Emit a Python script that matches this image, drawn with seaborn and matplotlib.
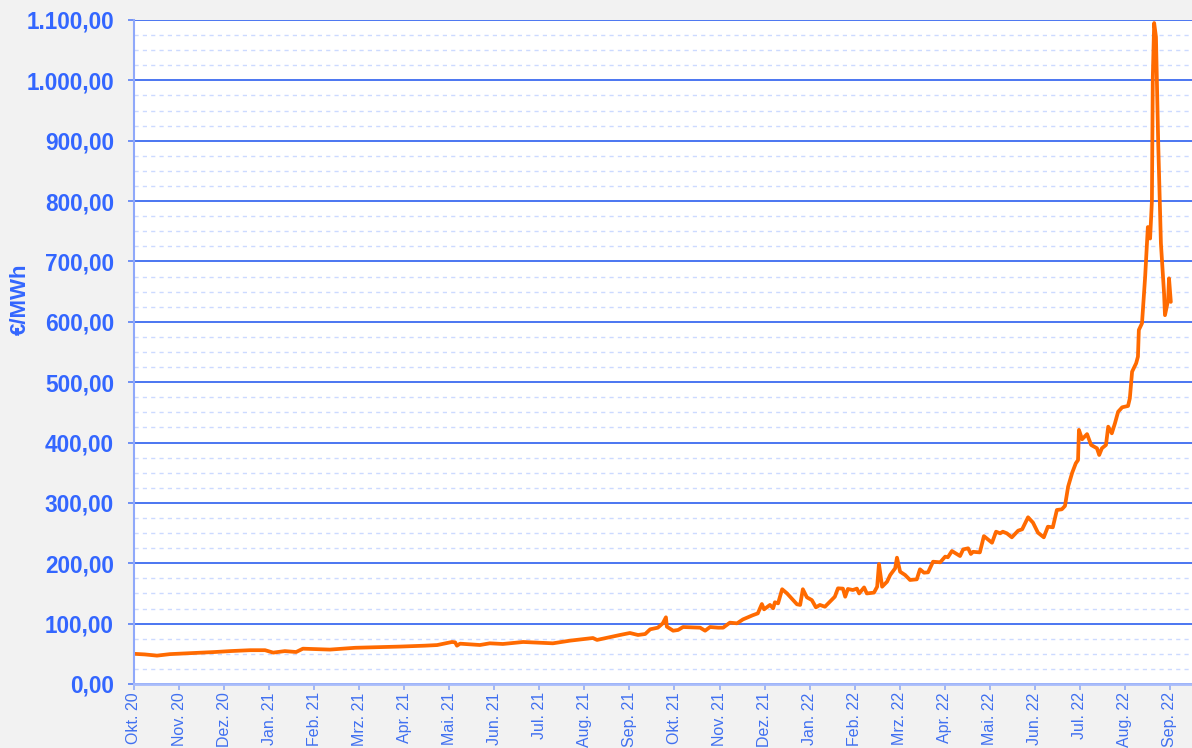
import numpy as np
import pandas as pd
import matplotlib
matplotlib.use("Agg")
import matplotlib.pyplot as plt
import seaborn as sns
from matplotlib.ticker import FuncFormatter, MultipleLocator

# ---- data (month index 0 = Okt. 20) ----
month_pos = [
    0.00, 0.24, 0.51, 0.80, 1.24, 1.80, 2.13, 2.58, 2.91, 3.09, 3.35, 3.60, 3.75,
    4.35, 4.91, 5.46, 5.91, 6.46, 6.73, 7.06, 7.13, 7.17, 7.24, 7.68, 7.90, 8.19,
    8.64, 8.95, 9.30, 9.68, 10.19, 10.28, 10.79, 11.01, 11.19, 11.35, 11.46, 11.63,
    11.74, 11.81, 11.83, 11.97, 12.08, 12.19, 12.57, 12.68, 12.79, 12.97, 13.08,
    13.23, 13.39, 13.52, 13.74, 13.85, 13.94, 13.99, 14.12, 14.19, 14.23, 14.30,
    14.39, 14.50, 14.72, 14.79, 14.85, 14.94, 15.05, 15.14, 15.23, 15.34, 15.45,
    15.56, 15.63, 15.74, 15.79, 15.85, 15.96, 16.05, 16.10, 16.21, 16.27, 16.43,
    16.50, 16.54, 16.61, 16.72, 16.79, 16.90, 16.94, 17.01, 17.12, 17.23, 17.38,
    17.45, 17.54, 17.63, 17.74, 17.90, 18.01, 18.07, 18.16, 18.34, 18.41, 18.52,
    18.58, 18.63, 18.78, 18.87, 19.05, 19.14, 19.23, 19.29, 19.38, 19.49, 19.63,
    19.72, 19.85, 19.96, 20.07, 20.20, 20.29, 20.40, 20.49, 20.60, 20.67, 20.74,
    20.83, 20.91, 20.96, 20.98, 21.05, 21.16, 21.25, 21.38, 21.43, 21.49, 21.58,
    21.63, 21.71, 21.78, 21.85, 21.94, 22.07, 22.11, 22.16, 22.25, 22.29, 22.31,
    22.38, 22.45, 22.51, 22.56, 22.60, 22.62, 22.65, 22.69, 22.74, 22.80, 22.87,
    22.89, 22.96, 22.98, 23.02,
]
price = [
    50, 49, 47, 49.5, 51, 53, 54.5, 56, 56, 52, 54.5, 53, 58.5,
    57, 60, 61, 62, 63.5, 64.5, 69.6, 69, 63.5, 66.8, 64.6, 67.4, 66.3,
    69.6, 68.5, 67.4, 71.8, 76.2, 73, 81.2, 84.5, 81.2, 82.8, 90.6, 93.3,
    100.5, 110.5, 95, 88.3, 89.5, 94.4, 93.3, 88.3, 94.4, 93.3, 93.3,
    101.6, 100.5, 107, 114, 117, 132.5, 123.7, 131, 125.4, 135.4, 133.6,
    157, 150, 132, 131, 157, 143.6, 139, 127, 131, 128, 136.4,
    144.6, 158.5, 158, 144.6, 157.4, 155.7, 158, 150, 160, 150, 151.4,
    161.2, 198.8, 161.2, 169.5, 180.6, 191.7, 209.3, 186, 180.6, 172.3, 173.4,
    190, 184.4, 185, 202.6, 201.6, 211, 210, 220.3, 212, 223, 224.8,
    215.4, 219, 218, 245, 234, 252.3, 249.6, 252.3, 249.6, 243, 254,
    256.3, 276.2, 267.3, 250.7, 243, 260.6, 259.6, 288.3, 289.4, 295, 327,
    350, 365.6, 371, 421, 405.4, 414, 396, 390.5, 379.4, 390.5, 396,
    426.3, 415.3, 432, 451, 458.4, 460.6, 473.3, 517.4, 531.3, 542.3, 586.5,
    597.6, 674.8, 757, 738, 800, 1006, 1095, 1072, 896, 730, 647,
    611, 636, 672, 633,
]
month_labels = [
    "Okt. 20", "Nov. 20", "Dez. 20", "Jan. 21", "Feb. 21", "Mrz. 21", "Apr. 21",
    "Mai. 21", "Jun. 21", "Jul. 21", "Aug. 21", "Sep. 21", "Okt. 21", "Nov. 21",
    "Dez. 21", "Jan. 22", "Feb. 22", "Mrz. 22", "Apr. 22", "Mai. 22", "Jun. 22",
    "Jul. 22", "Aug. 22", "Sep. 22",
]
y_label = "€/MWh"

df = pd.DataFrame({"m": month_pos, "v": price})

sns.set_style("white")
plt.rcParams["font.family"] = ["Liberation Sans", "DejaVu Sans"]

fig = plt.figure(figsize=(11.92, 7.48), dpi=100, facecolor="#F2F2F2")
ax = fig.add_axes([134 / 1192, 64 / 748, 1058 / 1192, 664 / 748])
ax.set_facecolor("white")

sns.lineplot(data=df, x="m", y="v", ax=ax, color="#FF6A00", linewidth=2.7,
             estimator=None, sort=False)

ax.set_xlim(0, 1058 / 45.04)
ax.set_ylim(0, 1100)

# grid
ax.yaxis.set_major_locator(MultipleLocator(100))
ax.yaxis.set_minor_locator(MultipleLocator(25))
ax.grid(False)
ax.grid(True, axis="y", which="major", color="#3D6BF0", linewidth=1.3, linestyle="-")
ax.grid(True, axis="y", which="minor", color="#CCDAFF", linewidth=1.0, linestyle=(0, (3, 3)))
ax.set_axisbelow(True)

def de_fmt(v, pos):
    s = f"{v:,.2f}"
    return s.replace(",", "X").replace(".", ",").replace("X", ".")

ax.yaxis.set_major_formatter(FuncFormatter(de_fmt))
ax.tick_params(axis="y", which="major", length=4.5, width=1.2, color="#5A80F5",
               labelsize=16.3, labelcolor="#3366FF", pad=10, direction="out", left=True)
ax.tick_params(axis="y", which="minor", length=0)
for lab in ax.get_yticklabels():
    lab.set_fontweight("bold")

ax.set_xticks(range(len(month_labels)))
ax.set_xticklabels(month_labels, rotation=90, va="top")
ax.tick_params(axis="x", length=4.5, width=1.2, color="#90AAF8", labelsize=11.5,
               labelcolor="#4070F0", pad=1.5, direction="out", bottom=True)

for side in ["top", "right"]:
    ax.spines[side].set_visible(False)
ax.spines["left"].set_color("#8FA8FA")
ax.spines["left"].set_linewidth(1.5)
ax.spines["bottom"].set_color("#A8BCFA")
ax.spines["bottom"].set_linewidth(2.0)

ax.set_xlabel("")
ax.set_ylabel(y_label, fontsize=16, fontweight="bold", color="#3366FF")
ax.yaxis.set_label_coords(-0.097, 0.58)

fig.savefig("out.png", dpi=100, facecolor=fig.get_facecolor())
